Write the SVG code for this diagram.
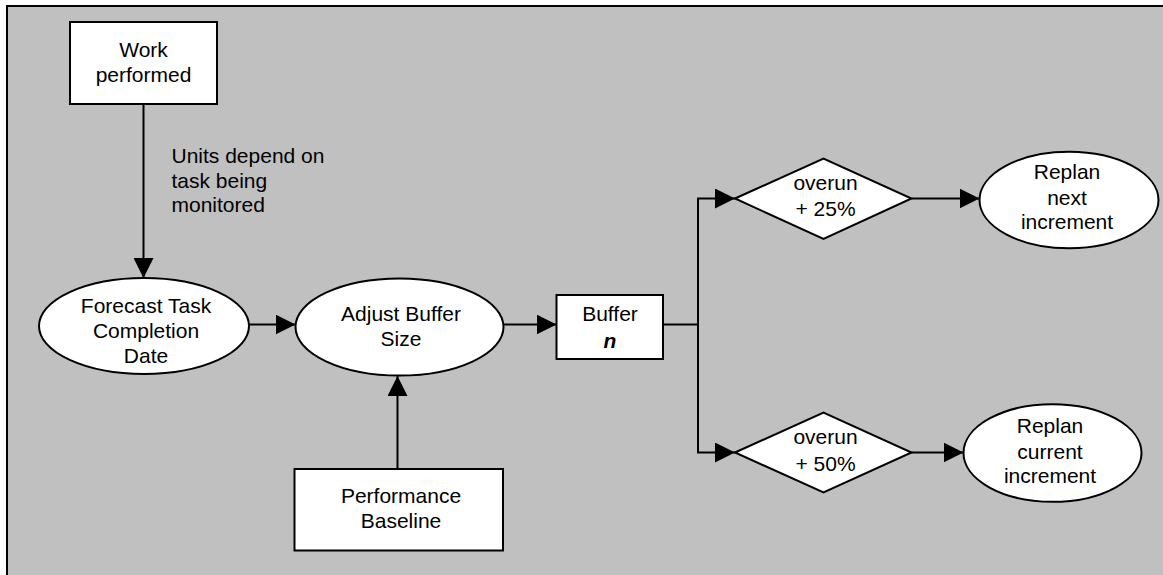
<svg xmlns="http://www.w3.org/2000/svg" width="1163" height="575" viewBox="0 0 1163 575">
<style>
.shape{fill:#fff;stroke:#000;stroke-width:2}
.conn{fill:none;stroke:#000;stroke-width:2}
text{font-family:"Liberation Sans",Arial,sans-serif;font-size:21px;fill:#000}
.c{text-anchor:middle}
</style>
<defs>
<marker id="arr" markerUnits="userSpaceOnUse" markerWidth="20" markerHeight="20" refX="20" refY="10" orient="auto">
<path d="M0,0 L20,10 L0,20 z" fill="#000"/>
</marker>
</defs>
<rect x="0" y="0" width="1163" height="575" fill="#fff"/>
<rect x="7" y="6" width="1200" height="620" fill="#C0C0C0" stroke="#000" stroke-width="2"/>
<g id="connectors">
<path class="conn" d="M143.5,104 V278" marker-end="url(#arr)"/>
<path class="conn" d="M249,324.5 H295.5" marker-end="url(#arr)"/>
<path class="conn" d="M503,324.5 H556.5" marker-end="url(#arr)"/>
<path class="conn" d="M397.5,469 V376" marker-end="url(#arr)"/>
<path class="conn" d="M663,324.5 H698 V198.5 H735" marker-end="url(#arr)"/>
<path class="conn" d="M698,324.5 V452.5 H735" marker-end="url(#arr)"/>
<path class="conn" d="M911.5,198.5 H979.5" marker-end="url(#arr)"/>
<path class="conn" d="M911.5,452.5 H963.5" marker-end="url(#arr)"/>
<text x="171.5" y="163">Units depend on</text>
<text x="171.5" y="187.5">task being</text>
<text x="171.5" y="212">monitored</text>
</g>
<g id="work">
<rect class="shape" x="70" y="22" width="147" height="82"/>
<text class="c" x="143.5" y="57">Work</text>
<text class="c" x="143.5" y="82">performed</text>
</g>
<g id="forecast">
<ellipse class="shape" cx="144" cy="326" rx="105" ry="48"/>
<text class="c" x="146" y="312.5">Forecast Task</text>
<text class="c" x="146" y="338">Completion</text>
<text class="c" x="146" y="362.5">Date</text>
</g>
<g id="adjust">
<ellipse class="shape" cx="399.5" cy="327" rx="104" ry="48.5"/>
<text class="c" x="401" y="320.5">Adjust Buffer</text>
<text class="c" x="401" y="346">Size</text>
</g>
<g id="buffer">
<rect class="shape" x="556.5" y="295" width="106.5" height="64"/>
<text class="c" x="610" y="320.5">Buffer</text>
<text class="c" x="610" y="348" font-weight="bold" font-style="italic">n</text>
</g>
<g id="performance">
<rect class="shape" x="294.5" y="469" width="208.5" height="81.5"/>
<text class="c" x="401" y="502.5">Performance</text>
<text class="c" x="401" y="528">Baseline</text>
</g>
<g id="overun25">
<polygon class="shape" points="735,198.5 823.5,158.5 911.5,198.5 823.5,239"/>
<text class="c" x="825.5" y="190">overun</text>
<text class="c" x="825.5" y="215.5">+ 25%</text>
</g>
<g id="overun50">
<polygon class="shape" points="735,452.5 823.5,412.5 911.5,452.5 823.5,492.5"/>
<text class="c" x="825.5" y="444">overun</text>
<text class="c" x="825.5" y="470.5">+ 50%</text>
</g>
<g id="replan-next">
<ellipse class="shape" cx="1069" cy="200" rx="89.5" ry="48.3"/>
<text class="c" x="1067" y="179">Replan</text>
<text class="c" x="1067" y="205">next</text>
<text class="c" x="1067" y="228.5">increment</text>
</g>
<g id="replan-current">
<ellipse class="shape" cx="1052.5" cy="453" rx="89" ry="48.8"/>
<text class="c" x="1050" y="432.5">Replan</text>
<text class="c" x="1050" y="459">current</text>
<text class="c" x="1050" y="482.5">increment</text>
</g>
</svg>
